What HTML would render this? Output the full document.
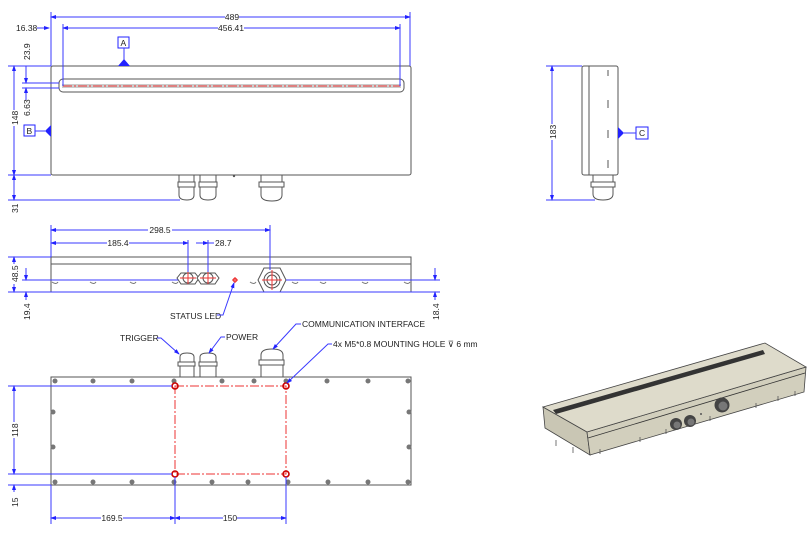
<!DOCTYPE html>
<html><head><meta charset="utf-8"><style>
html,body{margin:0;padding:0;background:#fff}
svg{display:block}
text{font-family:"Liberation Sans",sans-serif;font-size:8.5px;fill:#222}
.d{stroke:#3a3aff;stroke-width:1;fill:none}
.o{stroke:#555;stroke-width:1;fill:#fff}
.r{stroke:#e33;stroke-width:1;fill:none;stroke-dasharray:9 2 2 2}
</style></head><body>
<svg width="810" height="534" viewBox="0 0 810 534" xmlns="http://www.w3.org/2000/svg">
<defs>
<marker id="a" markerWidth="6" markerHeight="6" refX="5" refY="3" orient="auto-start-reverse"><path d="M0,1 L6,3 L0,5z" fill="#22f"/></marker>
</defs>
<!-- ===== TOP VIEW ===== -->
<rect x="51" y="66" width="360" height="109" rx="2" class="o"/>
<rect x="59" y="79" width="345" height="13" rx="4" class="o"/>
<rect x="62" y="84" width="339" height="4" fill="#ccc"/>
<line x1="63" y1="86" x2="400" y2="86" class="r"/>
<!-- dims -->
<line x1="51" y1="12" x2="51" y2="66" class="d"/>
<line x1="410" y1="12" x2="410" y2="66" class="d"/>
<line x1="51" y1="17" x2="410" y2="17" class="d" marker-start="url(#a)" marker-end="url(#a)"/>
<rect x="225" y="12" width="14" height="10" fill="#fff"/><text x="232" y="20" text-anchor="middle">489</text>
<line x1="63" y1="24" x2="63" y2="86" class="d"/>
<line x1="400" y1="24" x2="400" y2="86" class="d"/>
<line x1="63" y1="28" x2="400" y2="28" class="d" marker-start="url(#a)" marker-end="url(#a)"/>
<rect x="218" y="23" width="26" height="10" fill="#fff"/><text x="231" y="31" text-anchor="middle">456.41</text>
<text x="16" y="31">16.38</text><line x1="37" y1="28" x2="49" y2="28" class="d" marker-end="url(#a)"/>
<rect x="118" y="37" width="11" height="11" fill="#fff" stroke="#22f"/><text x="120.5" y="46">A</text>
<line x1="124" y1="48" x2="124" y2="60" class="d"/><path d="M118,66 L124,59 L130,66z" fill="#22f"/>
<rect x="24" y="125" width="11" height="11" fill="#fff" stroke="#22f"/><text x="26.5" y="134">B</text>
<line x1="35" y1="131" x2="45" y2="131" class="d"/><path d="M51,125 L45,131 L51,137z" fill="#22f"/>
<line x1="8" y1="66" x2="51" y2="66" class="d"/>
<line x1="8" y1="175" x2="51" y2="175" class="d"/>
<line x1="8" y1="200" x2="180" y2="200" class="d"/>
<line x1="14" y1="66" x2="14" y2="175" class="d" marker-start="url(#a)" marker-end="url(#a)"/>
<line x1="14" y1="175" x2="14" y2="200" class="d" marker-start="url(#a)" marker-end="url(#a)"/>
<rect x="9" y="110" width="10" height="16" fill="#fff"/><text transform="translate(18,125) rotate(-90)">148</text>
<text transform="translate(18,213) rotate(-90)">31</text>
<line x1="22" y1="83" x2="59" y2="83" class="d"/><line x1="22" y1="88" x2="59" y2="88" class="d"/>
<line x1="26" y1="66" x2="26" y2="83" class="d" marker-end="url(#a)"/>
<line x1="26" y1="88" x2="26" y2="100" class="d" marker-start="url(#a)"/>
<text transform="translate(30,60) rotate(-90)">23.9</text>
<text transform="translate(30,116) rotate(-90)">6.63</text>
<!-- glands top -->
<g class="o">
<rect x="179" y="175" width="15" height="7"/><rect x="178" y="182" width="17" height="5"/><path d="M179,187 h15 v8 q0,5 -7,5 q-8,0 -8,-5z"/>
<rect x="200" y="175" width="16" height="7"/><rect x="199" y="182" width="18" height="5"/><path d="M200,187 h16 v8 q0,5 -8,5 q-8,0 -8,-5z"/>
<rect x="261" y="175" width="21" height="7"/><rect x="259" y="182" width="25" height="5"/><path d="M261,187 h21 v8 q0,6 -10,6 q-11,0 -11,-6z"/>
</g>
<circle cx="234" cy="176" r="1.2" fill="#555"/>
<!-- ===== SIDE VIEW ===== -->
<rect x="582" y="66" width="36" height="109" rx="2" class="o"/>
<line x1="589" y1="66" x2="589" y2="175" stroke="#555"/>
<g stroke="#555" fill="none"><path d="M608,70v6M608,100v8M608,130v8M608,160v8"/></g>
<g class="o"><rect x="593" y="175" width="20" height="7"/><rect x="591" y="182" width="24" height="5"/><path d="M593,187 h20 v7 q0,6 -10,6 q-10,0 -10,-6z"/></g>
<line x1="546" y1="66" x2="582" y2="66" class="d"/>
<line x1="546" y1="200" x2="595" y2="200" class="d"/>
<line x1="552" y1="66" x2="552" y2="200" class="d" marker-start="url(#a)" marker-end="url(#a)"/>
<rect x="547" y="124" width="10" height="16" fill="#fff"/><text transform="translate(556,139) rotate(-90)">183</text>
<rect x="636" y="127" width="12" height="12" fill="#fff" stroke="#22f"/><text x="639" y="136">C</text>
<line x1="624" y1="133" x2="636" y2="133" class="d"/><path d="M618,127 L624,133 L618,139z" fill="#22f"/>
<!-- ===== FRONT VIEW ===== -->
<rect x="51" y="257" width="360" height="7" class="o"/>
<rect x="51" y="264" width="360" height="28" class="o"/>
<g stroke="#777" fill="none">
<path d="M52,282 q4,3 6,0M90,282 q4,3 6,0M130,282 q4,3 6,0M172,282 q4,3 6,0M250,282 q4,3 6,0M292,282 q4,3 6,0M320,282 q4,3 6,0M362,282 q4,3 6,0M404,282 q4,3 6,0"/>
</g>
<g class="o">
<polygon points="181,273 195,273 199,278 195,284 181,284 177,278"/><circle cx="188" cy="278" r="5"/>
<polygon points="201,273 215,273 219,278 215,284 201,284 197,278"/><circle cx="208" cy="278" r="5"/>
<polygon points="264,268 280,268 286,280 280,292 264,292 258,280"/><circle cx="272" cy="280" r="8"/><circle cx="272" cy="280" r="5"/>
</g>
<g stroke="#e33" fill="none"><path d="M180,278h16M188,272v12M200,278h16M208,272v12M262,280h20M272,270v20M232,280h6M235,277v6"/></g>
<circle cx="235" cy="280" r="1.8" stroke="#e33" fill="none"/>
<line x1="51" y1="225" x2="51" y2="257" class="d"/>
<line x1="270" y1="225" x2="270" y2="270" class="d"/>
<line x1="51" y1="230" x2="270" y2="230" class="d" marker-start="url(#a)" marker-end="url(#a)"/>
<rect x="148" y="225" width="24" height="10" fill="#fff"/><text x="160" y="233" text-anchor="middle">298.5</text>
<line x1="188" y1="240" x2="188" y2="272" class="d"/>
<line x1="208" y1="240" x2="208" y2="272" class="d"/>
<line x1="51" y1="243" x2="188" y2="243" class="d" marker-start="url(#a)" marker-end="url(#a)"/>
<rect x="107" y="238" width="22" height="10" fill="#fff"/><text x="118" y="246" text-anchor="middle">185.4</text>
<line x1="196" y1="243" x2="208" y2="243" class="d" marker-end="url(#a)"/>
<line x1="208" y1="243" x2="214" y2="243" class="d"/><text x="215" y="246">28.7</text>
<line x1="8" y1="257" x2="51" y2="257" class="d"/>
<line x1="8" y1="292" x2="440" y2="292" class="d"/>
<line x1="22" y1="280" x2="178" y2="280" class="d"/>
<line x1="286" y1="280" x2="440" y2="280" class="d"/>
<line x1="14" y1="257" x2="14" y2="292" class="d" marker-start="url(#a)" marker-end="url(#a)"/>
<rect x="9" y="264" width="10" height="20" fill="#fff"/><text transform="translate(18,282) rotate(-90)">48.5</text>
<line x1="26" y1="268" x2="26" y2="280" class="d" marker-end="url(#a)"/>
<line x1="26" y1="292" x2="26" y2="300" class="d" marker-start="url(#a)"/>
<text transform="translate(30,320) rotate(-90)">19.4</text>
<line x1="435" y1="268" x2="435" y2="280" class="d" marker-end="url(#a)"/>
<line x1="435" y1="292" x2="435" y2="300" class="d" marker-start="url(#a)"/>
<text transform="translate(439,320) rotate(-90)">18.4</text>
<text x="170" y="319">STATUS LED</text>
<path d="M217,315 h6 L234,283" class="d" marker-end="url(#a)"/>
<!-- ===== BOTTOM VIEW ===== -->
<rect x="51" y="377" width="360" height="108" class="o"/>
<g fill="#777">
<path d="M53,379 l3,0 0,3z"/>
<circle cx="55" cy="381" r="2.5"/><circle cx="93" cy="381" r="2.5"/><circle cx="132" cy="381" r="2.5"/><circle cx="174" cy="381" r="2.5"/><circle cx="222" cy="381" r="2.5"/><circle cx="254" cy="381" r="2.5"/><circle cx="286" cy="381" r="2.5"/><circle cx="327" cy="381" r="2.5"/><circle cx="368" cy="381" r="2.5"/><circle cx="408" cy="381" r="2.5"/>
<circle cx="55" cy="482" r="2.5"/><circle cx="93" cy="482" r="2.5"/><circle cx="132" cy="482" r="2.5"/><circle cx="174" cy="482" r="2.5"/><circle cx="212" cy="482" r="2.5"/><circle cx="248" cy="482" r="2.5"/><circle cx="288" cy="482" r="2.5"/><circle cx="328" cy="482" r="2.5"/><circle cx="368" cy="482" r="2.5"/><circle cx="408" cy="482" r="2.5"/>
<circle cx="53" cy="412" r="2.5"/><circle cx="53" cy="447" r="2.5"/><circle cx="409" cy="412" r="2.5"/><circle cx="409" cy="447" r="2.5"/>
</g>
<g class="o">
<path d="M180,377 v-20 q0,-4 7,-4 q7,0 7,4 v20z"/><rect x="178" y="362" width="17" height="4"/>
<path d="M200,377 v-20 q0,-4 8,-4 q8,0 8,4 v20z"/><rect x="199" y="362" width="18" height="4"/>
<path d="M261,377 v-22 q0,-6 11,-6 q11,0 11,6 v22z"/><rect x="259" y="360" width="25" height="5"/>
</g>
<rect x="175" y="386" width="111" height="88" class="r"/>
<g stroke="#c00" stroke-width="1.6" fill="none"><circle cx="175" cy="386" r="3"/><circle cx="286" cy="386" r="3"/><circle cx="175" cy="474" r="3"/><circle cx="286" cy="474" r="3"/></g>
<line x1="8" y1="386" x2="172" y2="386" class="d"/>
<line x1="8" y1="474" x2="172" y2="474" class="d"/>
<line x1="8" y1="485" x2="51" y2="485" class="d"/>
<line x1="14" y1="386" x2="14" y2="474" class="d" marker-start="url(#a)" marker-end="url(#a)"/>
<rect x="9" y="422" width="10" height="16" fill="#fff"/><text transform="translate(18,437) rotate(-90)">118</text>
<line x1="14" y1="485" x2="14" y2="492" class="d" marker-start="url(#a)"/>
<text transform="translate(18,507) rotate(-90)">15</text>
<line x1="51" y1="485" x2="51" y2="524" class="d"/>
<line x1="175" y1="477" x2="175" y2="524" class="d"/>
<line x1="286" y1="477" x2="286" y2="524" class="d"/>
<line x1="51" y1="518" x2="175" y2="518" class="d" marker-start="url(#a)" marker-end="url(#a)"/>
<line x1="175" y1="518" x2="286" y2="518" class="d" marker-start="url(#a)" marker-end="url(#a)"/>
<rect x="101" y="513" width="22" height="10" fill="#fff"/><text x="112" y="521" text-anchor="middle">169.5</text>
<rect x="223" y="513" width="14" height="10" fill="#fff"/><text x="230" y="521" text-anchor="middle">150</text>
<text x="120" y="341">TRIGGER</text>
<path d="M157,338 h4 L179,354" class="d" marker-end="url(#a)"/>
<text x="226" y="340">POWER</text>
<path d="M225,337 h-4 L209,353" class="d" marker-end="url(#a)"/>
<text x="302" y="327">COMMUNICATION INTERFACE</text>
<path d="M301,324 h-5 L273,349" class="d" marker-end="url(#a)"/>
<text x="333" y="347">4x M5*0.8 MOUNTING HOLE ⊽ 6 mm</text>
<path d="M332,344 h-4 L287,383" class="d" marker-end="url(#a)"/>
<!-- ===== ISO VIEW ===== -->
<polygon points="543,407 587,432 590,455 545,428" fill="#c9c6b4" stroke="#444" stroke-width="0.8"/>
<polygon points="587,432 806,367 804,392 590,455" fill="#d2cfbd" stroke="#444" stroke-width="0.8"/>
<polygon points="543,407 765,343 806,367 587,432" fill="#dedbcb" stroke="#444" stroke-width="0.8"/>
<polygon points="553,410 763,350 765,354 556,414" fill="#333"/>
<line x1="588" y1="438" x2="805" y2="373" stroke="#333" stroke-width="0.8"/>
<g fill="none" stroke="#555" stroke-width="0.8">
<path d="M556,440v6M573,447v6M600,449v5M640,437v5M666,429v5M710,416v5M756,403v5M778,396v5M795,391v5"/>
</g>
<circle cx="676" cy="424" r="6" fill="#444"/><circle cx="677" cy="425" r="3.5" fill="#777"/>
<circle cx="690" cy="421" r="6" fill="#444"/><circle cx="691" cy="422" r="3.5" fill="#777"/>
<circle cx="722" cy="405" r="7.5" fill="#444"/><circle cx="723" cy="406" r="4.5" fill="#777"/>
<circle cx="701" cy="414" r="1" fill="#555"/>
</svg>
</body></html>
